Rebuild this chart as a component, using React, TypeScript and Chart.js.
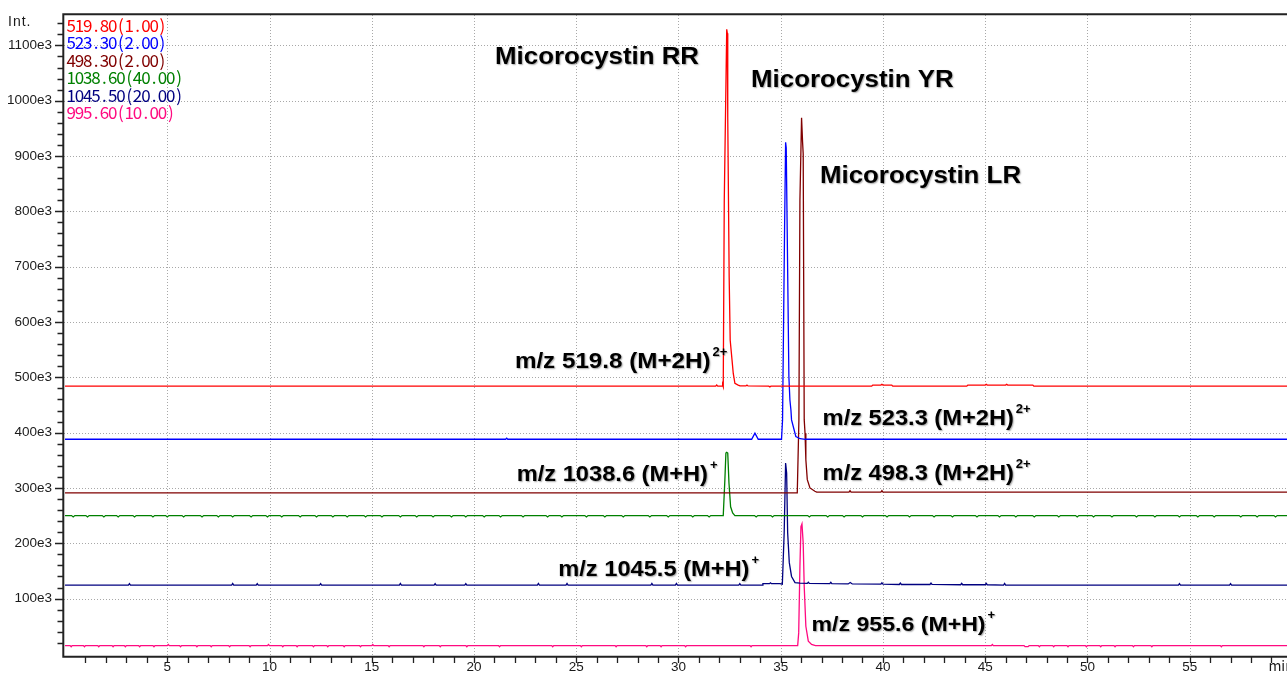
import React, { useEffect, useRef } from 'react';
import { Chart, registerables } from 'chart.js';

Chart.register(...registerables);

// ---------- data (time in min, intensity in e3 counts) ----------
const xMajorTicks = [5, 10, 15, 20, 25, 30, 35, 40, 45, 50, 55];
const yMajorTicks = [100, 200, 300, 400, 500, 600, 700, 800, 900, 1000, 1100];

const seriesNames = ['519.80(1.00)', '523.30(2.00)', '498.30(2.00)', '1038.60(40.00)', '1045.50(20.00)', '995.60(10.00)'];
const seriesColors = ['#ff0000', '#0000ff', '#800000', '#008000', '#000080', '#ff0a80'];

const trace519 = [
  [0, 484], [31.82, 484], [31.87, 486], [31.92, 484], [32.14, 484], [32.16, 486.5], [32.19, 483],
  [32.24, 820], [32.36, 1129], [32.39, 1122], [32.41, 970], [32.48, 681], [32.53, 567], [32.62, 531],
  [32.68, 507], [32.76, 489], [32.92, 486], [33.01, 484.5], [33.3, 484.5], [33.35, 486], [33.4, 484.5],
  [34.42, 484], [34.47, 482.5], [34.52, 484], [39.45, 484], [39.5, 486], [39.9, 486], [39.95, 487.5],
  [40.0, 486], [40.43, 486], [40.48, 484], [44.1, 484], [44.15, 486], [45.0, 486], [45.05, 487.5],
  [45.1, 486], [46.0, 486], [46.05, 487.5], [46.1, 486], [47.33, 486], [47.38, 484], [60, 484],
];

const trace523 = [
  [0, 388], [21.55, 388], [21.6, 390], [21.65, 388], [33.58, 388], [33.74, 399], [33.9, 388],
  [35.04, 388], [35.09, 423], [35.19, 771], [35.24, 925], [35.27, 915], [35.31, 790], [35.4, 501],
  [35.45, 459], [35.5, 441], [35.53, 423], [35.74, 393], [35.95, 389], [36.2, 388], [60, 388],
];

const trace498 = [
  [0, 291], [35.81, 291], [35.89, 423], [35.94, 820], [36.02, 969], [36.07, 925], [36.1, 904],
  [36.15, 423], [36.19, 399], [36.23, 351], [36.3, 315], [36.43, 300], [36.67, 294], [36.76, 292.5],
  [38.34, 292.5], [38.39, 295], [38.44, 292.5], [39.9, 292.5], [39.95, 295], [40.0, 292.5], [60, 292.5],
];

const trace1038 = [
  [0, 250], [0.32, 250], [0.4, 247.5], [0.48, 250], [1.02, 250], [1.1, 247.5], [1.18, 250],
  [1.82, 250], [1.9, 247.5], [1.98, 250], [2.52, 250], [2.6, 247.5], [2.68, 250],
  [3.32, 250], [3.4, 247.5], [3.48, 250], [4.22, 250], [4.3, 247.5], [4.38, 250],
  [4.92, 250], [5.0, 247.5], [5.08, 250], [5.72, 250], [5.8, 247.5], [5.88, 250],
  [6.62, 250], [6.7, 247.5], [6.78, 250], [7.42, 250], [7.5, 247.5], [7.58, 250],
  [8.12, 250], [8.2, 247.5], [8.28, 250], [9.02, 250], [9.1, 247.5], [9.18, 250],
  [9.82, 250], [9.9, 247.5], [9.98, 250], [10.52, 250], [10.6, 247.5], [10.68, 250],
  [11.42, 250], [11.5, 247.5], [11.58, 250], [12.22, 250], [12.3, 247.5], [12.38, 250],
  [13.02, 250], [13.1, 247.5], [13.18, 250], [13.72, 250], [13.8, 247.5], [13.88, 250],
  [14.62, 250], [14.7, 247.5], [14.78, 250], [15.42, 250], [15.5, 247.5], [15.58, 250],
  [16.32, 250], [16.4, 247.5], [16.48, 250], [17.12, 250], [17.2, 247.5], [17.28, 250],
  [17.92, 250], [18.0, 247.5], [18.08, 250], [18.82, 250], [18.9, 247.5], [18.98, 250],
  [19.52, 250], [19.6, 247.5], [19.68, 250], [20.42, 250], [20.5, 247.5], [20.58, 250],
  [21.22, 250], [21.3, 247.5], [21.38, 250], [22.32, 250], [22.4, 247.5], [22.48, 250],
  [23.52, 250], [23.6, 247.5], [23.68, 250], [24.22, 250], [24.3, 247.5], [24.38, 250],
  [25.42, 250], [25.5, 247.5], [25.58, 250], [26.32, 250], [26.4, 247.5], [26.48, 250],
  [27.22, 250], [27.3, 247.5], [27.38, 250], [28.52, 250], [28.6, 247.5], [28.68, 250],
  [29.42, 250], [29.5, 247.5], [29.58, 250], [30.62, 250], [30.7, 247.5], [30.78, 250],
  [31.42, 250], [31.5, 247.5], [31.58, 250],
  [32.19, 250], [32.27, 315], [32.32, 363], [32.36, 364.5], [32.41, 363], [32.47, 309],
  [32.55, 266], [32.65, 255], [32.76, 250],
  [33.72, 250], [33.8, 247.5], [33.88, 250], [34.52, 250], [34.6, 247.5], [34.68, 250],
  [36.32, 250], [36.4, 247.5], [36.48, 250], [37.22, 250], [37.3, 247.5], [37.38, 250],
  [38.02, 250], [38.1, 247.5], [38.18, 250], [38.92, 250], [39.0, 247.5], [39.08, 250],
  [40.12, 250], [40.2, 247.5], [40.28, 250], [41.22, 250], [41.3, 247.5], [41.38, 250],
  [42.42, 250], [42.5, 247.5], [42.58, 250], [43.32, 250], [43.4, 247.5], [43.48, 250],
  [44.52, 250], [44.6, 247.5], [44.68, 250], [45.62, 250], [45.7, 247.5], [45.78, 250],
  [46.42, 250], [46.5, 247.5], [46.58, 250], [47.32, 250], [47.4, 247.5], [47.48, 250],
  [48.52, 250], [48.6, 247.5], [48.68, 250], [49.42, 250], [49.5, 247.5], [49.58, 250],
  [50.22, 250], [50.3, 247.5], [50.38, 250], [51.12, 250], [51.2, 247.5], [51.28, 250],
  [52.32, 250], [52.4, 247.5], [52.48, 250], [53.22, 250], [53.3, 247.5], [53.38, 250],
  [54.42, 250], [54.5, 247.5], [54.58, 250], [55.32, 250], [55.4, 247.5], [55.48, 250],
  [56.12, 250], [56.2, 247.5], [56.28, 250], [57.42, 250], [57.5, 247.5], [57.58, 250],
  [58.22, 250], [58.3, 247.5], [58.38, 250], [59.12, 250], [59.2, 247.5], [59.28, 250],
  [60, 250],
];

const trace1045 = [
  [0, 124.5], [3.1, 124.5], [3.15, 127], [3.2, 124.5], [8.15, 124.5], [8.2, 127.5], [8.25, 124.5],
  [9.35, 124.5], [9.4, 127], [9.45, 124.5], [12.45, 124.5], [12.5, 127], [12.55, 124.5],
  [16.35, 124.5], [16.4, 127.5], [16.45, 124.5], [18.05, 124.5], [18.1, 127], [18.15, 124.5],
  [19.55, 124.5], [19.6, 127], [19.65, 124.5], [23.1, 124.5], [23.15, 127.5], [23.2, 124.5],
  [24.5, 124.5], [24.55, 127.5], [24.6, 124.5], [28.65, 124.5], [28.7, 127.5], [28.75, 124.5],
  [29.85, 124.5], [29.9, 127.5], [29.95, 124.5], [32.95, 124.5], [33.0, 127], [33.05, 124.5],
  [34.1, 124.5], [34.13, 127], [34.45, 127], [34.5, 128.5], [34.55, 127], [34.96, 127],
  [35.08, 126], [35.17, 219], [35.24, 345], [35.29, 327], [35.34, 219], [35.42, 165],
  [35.53, 140], [35.7, 129], [35.94, 128], [36.3, 127.5], [36.35, 129.5], [36.4, 127.5],
  [37.4, 127], [37.45, 129.5], [37.5, 127], [38.3, 126.5], [38.4, 129], [38.5, 126.5],
  [39.9, 126], [39.95, 128.5], [40.0, 126], [40.8, 125.5], [40.85, 128], [40.9, 125.5],
  [42.3, 125.5], [42.35, 128], [42.4, 125.5], [43.8, 125], [43.85, 127.5], [43.9, 125],
  [45.0, 125], [45.05, 127.5], [45.1, 125], [45.9, 124.5], [45.95, 127.5], [46.0, 124.5],
  [54.45, 124.5], [54.5, 127], [54.55, 124.5], [56.95, 124.5], [57.0, 127], [57.05, 124.5],
  [60, 124.5],
];

const trace955 = [
  [0, 15], [0.25, 15], [0.3, 13], [0.35, 15], [0.9, 15], [0.95, 13], [1.0, 15],
  [1.6, 15], [1.65, 13], [1.7, 15], [2.3, 15], [2.35, 13], [2.4, 15], [2.9, 15], [2.95, 13], [3.0, 15],
  [3.6, 15], [3.65, 13], [3.7, 15], [4.3, 15], [4.35, 13], [4.4, 15], [5.0, 15], [5.05, 17], [5.1, 15],
  [5.6, 15], [5.65, 13], [5.7, 15], [6.4, 15], [6.45, 13], [6.5, 15], [7.1, 15], [7.15, 13], [7.2, 15],
  [8.0, 15], [8.05, 13], [8.1, 15], [9.0, 15], [9.05, 13], [9.1, 15], [9.9, 15], [9.95, 17], [10.0, 15],
  [10.6, 15], [10.65, 13], [10.7, 15], [11.3, 15], [11.35, 13], [11.4, 15], [12.1, 15], [12.15, 13], [12.2, 15],
  [12.8, 15], [12.85, 13], [12.9, 15], [13.6, 15], [13.65, 13], [13.7, 15], [14.4, 15], [14.45, 13], [14.5, 15],
  [15.0, 15], [15.05, 17], [15.1, 15], [15.8, 15], [15.85, 13], [15.9, 15], [17.5, 15], [17.55, 13], [17.6, 15],
  [18.3, 15], [18.35, 13], [18.4, 15], [19.6, 15], [19.65, 13], [19.7, 15], [21.2, 15], [21.25, 13], [21.3, 15],
  [23.8, 15], [23.85, 13], [23.9, 15], [25.2, 15], [25.25, 13], [25.3, 15], [26.9, 15], [26.95, 13], [27.0, 15],
  [28.4, 15], [28.45, 13], [28.5, 15], [29.1, 15], [29.15, 13], [29.2, 15], [30.3, 15], [30.35, 13], [30.4, 15],
  [33.5, 15], [33.55, 13], [33.6, 15],
  [35.83, 15], [35.88, 38], [35.94, 158], [35.99, 230], [36.04, 235], [36.1, 200], [36.15, 122],
  [36.23, 50], [36.35, 23], [36.51, 17], [36.7, 15],
  [45.3, 15], [45.35, 17], [45.4, 15], [46.9, 15], [46.95, 13], [47.1, 13], [47.15, 15],
  [47.6, 15], [47.65, 13], [47.7, 15], [48.3, 15], [48.35, 13], [48.4, 15], [49.0, 15], [49.05, 13], [49.1, 15],
  [49.9, 15], [49.95, 13], [50.0, 15], [50.6, 15], [50.65, 13], [50.7, 15], [51.3, 15], [51.35, 13], [51.4, 15],
  [52.2, 15], [52.25, 13], [52.3, 15], [53.1, 15], [53.15, 13], [53.2, 15], [56.5, 15], [56.55, 13], [56.6, 15],
  [60, 15],
];

const traces = [trace519, trace523, trace498, trace1038, trace1045, trace955];

// annotation texts, anchored in data coordinates (min, e3)
const annotations = [
  { text: 'Micorocystin RR', sup: '', t: 21.03, v: 1066, size: 23.5 },
  { text: 'Micorocystin YR', sup: '', t: 33.55, v: 1024.5, size: 23.5 },
  { text: 'Micorocystin LR', sup: '', t: 36.92, v: 851, size: 23.5 },
  { text: 'm/z 519.8 (M+2H)', sup: '2+', t: 22.0, v: 516, size: 22 },
  { text: 'm/z 523.3 (M+2H)', sup: '2+', t: 37.05, v: 413.8, size: 21.5 },
  { text: 'm/z 1038.6 (M+H)', sup: '+', t: 22.09, v: 313.4, size: 21.5 },
  { text: 'm/z 498.3 (M+2H)', sup: '2+', t: 37.05, v: 314.6, size: 21.5 },
  { text: 'm/z 1045.5 (M+H)', sup: '+', t: 24.12, v: 140.2, size: 21.5 },
  { text: 'm/z 955.6 (M+H)', sup: '+', t: 36.51, v: 41, size: 21 },
];

const W = 1287;
const H = 673;
const sansFont = '"Liberation Sans", Arial, Helvetica, sans-serif';
const gothicFont = '"Noto Sans CJK JP", "DejaVu Sans", sans-serif';

const overlayPlugin = {
  id: 'overlay',
  beforeDatasetsDraw(chart: any) {
    const { ctx, chartArea: a } = chart;
    const x = chart.scales.x;
    const y = chart.scales.y;
    ctx.save();
    ctx.strokeStyle = '#a8a8a8';
    ctx.lineWidth = 1;
    ctx.setLineDash([1, 2]);
    ctx.beginPath();
    xMajorTicks.forEach((v) => {
      const px = Math.round(x.getPixelForValue(v)) + 0.5;
      ctx.moveTo(px, a.top);
      ctx.lineTo(px, a.bottom);
    });
    yMajorTicks.forEach((v) => {
      const py = Math.round(y.getPixelForValue(v)) + 0.5;
      ctx.moveTo(a.left, py);
      ctx.lineTo(a.right, py);
    });
    ctx.stroke();
    ctx.restore();
  },
  afterDraw(chart: any) {
    const { ctx, chartArea: a } = chart;
    const x = chart.scales.x;
    const y = chart.scales.y;
    ctx.save();
    ctx.setLineDash([]);
    // frame / axes
    ctx.strokeStyle = '#222';
    ctx.lineWidth = 2;
    ctx.beginPath();
    ctx.moveTo(a.left - 0.7, a.top - 1);
    ctx.lineTo(a.left - 0.7, a.bottom + 1.7);
    ctx.moveTo(a.left - 1.7, a.bottom + 0.7);
    ctx.lineTo(a.right, a.bottom + 0.7);
    ctx.moveTo(a.left - 1.7, a.top - 0.7);
    ctx.lineTo(a.right, a.top - 0.7);
    ctx.stroke();
    // y ticks
    ctx.lineWidth = 1.3;
    ctx.beginPath();
    for (let v = 20; v < y.max; v += 20) {
      const py = Math.round(y.getPixelForValue(v)) + 0.5;
      const len = v % 100 === 0 ? 8 : 5.5;
      ctx.moveTo(a.left - 1, py);
      ctx.lineTo(a.left - 1 - len, py);
    }
    // x ticks
    for (let t = 1; t < x.max; t += 1) {
      const px = Math.round(x.getPixelForValue(t)) + 0.5;
      ctx.moveTo(px, a.bottom + 1);
      ctx.lineTo(px, a.bottom + 7);
    }
    ctx.stroke();

    // axis captions
    ctx.fillStyle = '#1a1a1a';
    ctx.font = `14px ${sansFont}`;
    ctx.textAlign = 'left';
    ctx.textBaseline = 'alphabetic';
    (ctx as any).letterSpacing = '1px';
    ctx.fillText('Int.', 8, 26);
    (ctx as any).letterSpacing = '0px';
    ctx.font = `14px ${gothicFont}`;
    ctx.textBaseline = 'middle';
    ctx.fillText('min', x.getPixelForValue(58.85), a.bottom + 10);

    // legend (fixed-pitch)
    ctx.font = `17px ${gothicFont}`;
    ctx.textAlign = 'center';
    ctx.textBaseline = 'alphabetic';
    seriesNames.forEach((name, i) => {
      ctx.fillStyle = seriesColors[i];
      Array.from(name).forEach((ch, j) => {
        ctx.fillText(ch, a.left + 3 + j * 8.3 + 4.15, 31.7 + i * 17.5);
      });
    });

    // annotations
    annotations.forEach((an) => {
      const px = x.getPixelForValue(an.t);
      const py = y.getPixelForValue(an.v);
      const sx = 1.1;
      ctx.save();
      ctx.fillStyle = '#000';
      ctx.shadowColor = 'rgba(0,0,0,0.35)';
      ctx.shadowOffsetX = 1;
      ctx.shadowOffsetY = 1;
      ctx.shadowBlur = 1.5;
      ctx.textAlign = 'left';
      ctx.textBaseline = 'alphabetic';
      ctx.font = `bold ${an.size}px ${sansFont}`;
      const w = ctx.measureText(an.text).width * sx;
      ctx.translate(px, py);
      ctx.scale(sx, 1);
      ctx.fillText(an.text, 0, 0);
      ctx.restore();
      if (an.sup) {
        ctx.save();
        ctx.fillStyle = '#000';
        ctx.shadowColor = 'rgba(0,0,0,0.3)';
        ctx.shadowOffsetX = 1;
        ctx.shadowOffsetY = 1;
        ctx.shadowBlur = 1;
        ctx.font = `bold 13px ${sansFont}`;
        ctx.textAlign = 'left';
        ctx.textBaseline = 'alphabetic';
        ctx.fillText(an.sup, px + w + 2, py - 12);
        ctx.restore();
      }
    });
    ctx.restore();
  },
};

export default function App() {
  const canvasRef = useRef<HTMLCanvasElement | null>(null);

  useEffect(() => {
    const canvas = canvasRef.current;
    if (!canvas) return;
    const chart = new Chart(canvas, {
      type: 'line',
      data: {
        datasets: traces.map((tr, i) => ({
          label: seriesNames[i],
          data: tr.map(([t, v]) => ({ x: t, y: v })),
          borderColor: seriesColors[i],
          backgroundColor: seriesColors[i],
          borderWidth: 1.3,
          pointRadius: 0,
          tension: 0,
          fill: false,
        })),
      },
      options: {
        animation: false,
        responsive: false,
        devicePixelRatio: 1,
        events: [],
        layout: { padding: { top: 15, left: 0, right: 0, bottom: 0 }, autoPadding: false },
        plugins: { legend: { display: false }, tooltip: { enabled: false } },
        scales: {
          x: {
            type: 'linear',
            min: -0.05,
            max: 59.76,
            grid: { display: false, drawTicks: false },
            border: { display: false },
            afterBuildTicks: (s: any) => {
              s.ticks = xMajorTicks.map((v) => ({ value: v }));
            },
            afterFit: (s: any) => {
              s.height = 17;
              s.paddingLeft = 0;
              s.paddingRight = 0;
              s.paddingTop = 0;
              s.paddingBottom = 0;
            },
            ticks: {
              autoSkip: false,
              maxRotation: 0,
              padding: 3,
              color: '#1a1a1a',
              font: { family: sansFont, size: 13.5 },
              callback: (v: any) => String(v),
            },
          },
          y: {
            type: 'linear',
            min: -3.8,
            max: 1155,
            grid: { display: false, drawTicks: false },
            border: { display: false },
            afterBuildTicks: (s: any) => {
              s.ticks = yMajorTicks.map((v) => ({ value: v }));
            },
            afterFit: (s: any) => {
              s.width = 64;
              s.paddingTop = 0;
              s.paddingBottom = 0;
              s.paddingLeft = 0;
              s.paddingRight = 0;
            },
            ticks: {
              padding: 12,
              color: '#1a1a1a',
              font: { family: sansFont, size: 13.5 },
              callback: (v: any) => `${v}e3`,
            },
          },
        },
      },
      plugins: [overlayPlugin],
    });
    return () => chart.destroy();
  }, []);

  return (
    <div style={{ position: 'fixed', left: 0, top: 0, width: W, height: H, background: '#fff' }}>
      <canvas ref={canvasRef} width={W} height={H} style={{ display: 'block', width: W, height: H }} />
    </div>
  );
}
